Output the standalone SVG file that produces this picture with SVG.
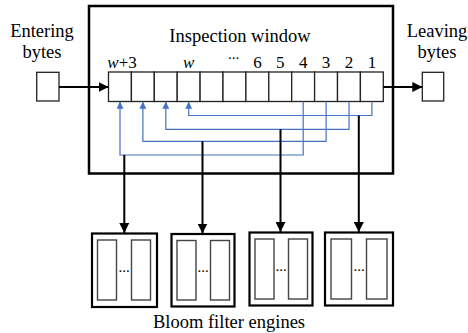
<svg xmlns="http://www.w3.org/2000/svg" width="468" height="333" viewBox="0 0 468 333" font-family="'Liberation Serif', 'DejaVu Serif', serif">
  <defs>
    <marker id="arrBlack" viewBox="0 0 10 10" refX="10" refY="5" markerWidth="10" markerHeight="10" markerUnits="userSpaceOnUse" orient="auto">
      <path d="M0,0 L10,5 L0,10 z" fill="#000"/>
    </marker>
    <marker id="arrBlue" viewBox="0 0 10 10" refX="10" refY="5" markerWidth="8" markerHeight="7" markerUnits="userSpaceOnUse" orient="auto">
      <path d="M0,0 L10,5 L0,10 z" fill="#4472C4"/>
    </marker>
  </defs>
  <style>
    text { fill: #000; }
    .lbl { font-size: 18.5px; text-anchor: middle; }
    .num { font-size: 17px; text-anchor: middle; }
    .dots { font-size: 15px; text-anchor: middle; }
    .frame { fill: #fff; stroke: #000; stroke-width: 2.5; }
    .cell { fill: #fff; stroke: #222; stroke-width: 1.3; }
    .byte { fill: #fff; stroke: #222; stroke-width: 1.3; }
    .eng { fill: #fff; stroke: #000; stroke-width: 2.2; }
    .bank { fill: #fff; stroke: #444; stroke-width: 1.4; }
    .blue { fill: none; stroke: #4472C4; stroke-width: 1.2; }
    .blk { fill: none; stroke: #000; stroke-width: 2; }
  </style>

  <rect x="0" y="0" width="468" height="333" fill="#fff"/>

  <!-- inspection window frame -->
  <g id="window">
    <rect class="frame" x="89" y="6" width="304" height="167.5"/>
    <text class="lbl" x="240" y="41.5">Inspection window</text>
  </g>

  <!-- byte cells -->
  <g id="cells">
    <rect class="cell" x="108.5" y="72" width="22.9" height="29.5"/>
    <rect class="cell" x="131.4" y="72" width="22.9" height="29.5"/>
    <rect class="cell" x="154.3" y="72" width="22.9" height="29.5"/>
    <rect class="cell" x="177.2" y="72" width="22.9" height="29.5"/>
    <rect class="cell" x="200.1" y="72" width="22.9" height="29.5"/>
    <rect class="cell" x="223.0" y="72" width="22.9" height="29.5"/>
    <rect class="cell" x="245.9" y="72" width="22.9" height="29.5"/>
    <rect class="cell" x="268.8" y="72" width="22.9" height="29.5"/>
    <rect class="cell" x="291.7" y="72" width="22.9" height="29.5"/>
    <rect class="cell" x="314.6" y="72" width="22.9" height="29.5"/>
    <rect class="cell" x="337.5" y="72" width="22.9" height="29.5"/>
    <rect class="cell" x="360.4" y="72" width="22.9" height="29.5"/>
    <text class="num" x="122" y="67.5"><tspan font-style="italic">w</tspan>+3</text>
    <text class="num" x="188.7" y="67.5" font-style="italic">w</text>
    <text class="dots" x="233.5" y="59">...</text>
    <text class="num" x="257.4" y="67.5">6</text>
    <text class="num" x="280.3" y="67.5">5</text>
    <text class="num" x="303.2" y="67.5">4</text>
    <text class="num" x="326.1" y="67.5">3</text>
    <text class="num" x="349" y="67.5">2</text>
    <text class="num" x="371.9" y="67.5">1</text>
  </g>

  <!-- entering / leaving bytes -->
  <g id="entering">
    <text class="lbl" x="42" y="37.3">Entering</text>
    <text class="lbl" x="42" y="57.5">bytes</text>
    <rect class="byte" x="36.7" y="72.3" width="22.3" height="28.7"/>
  </g>
  <g id="leaving">
    <text class="lbl" x="437" y="37.3">Leaving</text>
    <text class="lbl" x="437" y="57.5">bytes</text>
    <rect class="byte" x="422.3" y="72.3" width="21.4" height="28.7"/>
  </g>

  <!-- Bloom filter engines -->
  <g id="engine1">
    <rect class="eng" x="92" y="233.5" width="65" height="73.5"/>
    <rect class="bank" x="97.5" y="240" width="19" height="60"/>
    <rect class="bank" x="131.5" y="240" width="19" height="60"/>
    <text class="dots" x="124" y="272">...</text>
  </g>
  <g id="engine2">
    <rect class="eng" x="171.5" y="234" width="63" height="72.5"/>
    <rect class="bank" x="177" y="240.5" width="19" height="59.5"/>
    <rect class="bank" x="210.5" y="240.5" width="19" height="59.5"/>
    <text class="dots" x="203.2" y="272">...</text>
  </g>
  <g id="engine3">
    <rect class="eng" x="249.5" y="232.5" width="63" height="73"/>
    <rect class="bank" x="255" y="239" width="19" height="60"/>
    <rect class="bank" x="288.5" y="239" width="19" height="60"/>
    <text class="dots" x="281.2" y="271">...</text>
  </g>
  <g id="engine4">
    <rect class="eng" x="325" y="232.5" width="68" height="73"/>
    <rect class="bank" x="331" y="239" width="20.5" height="60"/>
    <rect class="bank" x="366.5" y="239" width="20.5" height="60"/>
    <text class="dots" x="359" y="271">...</text>
  </g>
  <text class="lbl" x="229" y="327.5">Bloom filter engines</text>

  <!-- connectors -->
  <g id="connectors">
    <line class="blk" x1="59" y1="87" x2="108.5" y2="87" marker-end="url(#arrBlack)"/>
    <line class="blk" x1="383.3" y1="87" x2="422.3" y2="87" marker-end="url(#arrBlack)"/>

    <polyline class="blue" points="303.2,101.5 303.2,155 120,155 120,101.8" marker-end="url(#arrBlue)"/>
    <polyline class="blue" points="326.1,101.5 326.1,141.3 142.9,141.3 142.9,101.8" marker-end="url(#arrBlue)"/>
    <polyline class="blue" points="349,101.5 349,129.3 165.8,129.3 165.8,101.8" marker-end="url(#arrBlue)"/>
    <polyline class="blue" points="371.9,101.5 371.9,115.5 188.7,115.5 188.7,101.8" marker-end="url(#arrBlue)"/>

    <line class="blk" x1="124.3" y1="155" x2="124.3" y2="233" marker-end="url(#arrBlack)"/>
    <line class="blk" x1="202.5" y1="141.3" x2="202.5" y2="233.5" marker-end="url(#arrBlack)"/>
    <line class="blk" x1="280.5" y1="129.3" x2="280.5" y2="232" marker-end="url(#arrBlack)"/>
    <line class="blk" x1="358.8" y1="115.5" x2="358.8" y2="232" marker-end="url(#arrBlack)"/>
  </g>
</svg>
